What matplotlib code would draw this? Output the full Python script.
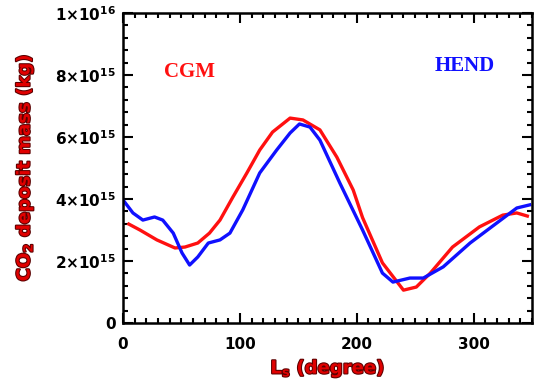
import numpy as np
import matplotlib
matplotlib.use("Agg")
from matplotlib import pyplot as plt
from matplotlib.ticker import MultipleLocator
import matplotlib.patheffects as pe

# CGM (red) - Ls in degrees, mass in 1e15 kg
cgm_ls = [5, 14.5, 29, 44.5, 53, 64, 74, 83, 94, 106, 117, 128, 143, 154,
          168.5, 183, 197, 205, 222, 240, 251, 263, 282, 305, 325, 337, 346]
cgm_mass = [3.19, 3.0, 2.68, 2.42, 2.45, 2.58, 2.9, 3.32, 4.06, 4.84, 5.58, 6.16, 6.61, 6.55,
            6.23, 5.35, 4.29, 3.4, 1.94, 1.06, 1.16, 1.61, 2.45, 3.1, 3.48, 3.55, 3.45]

# HEND (blue)
hend_ls = [0, 8.5, 17, 27, 34, 43, 50.5, 57, 64, 73, 83, 91.5, 102.5, 117, 131.5, 143,
           151, 160, 168.5, 185.5, 205, 222, 231, 245.5, 257, 274, 297, 320, 337, 348]
hend_mass = [3.97, 3.55, 3.32, 3.42, 3.32, 2.9, 2.26, 1.87, 2.13, 2.58, 2.68, 2.9, 3.65, 4.84, 5.58, 6.13,
             6.42, 6.32, 5.9, 4.52, 3.0, 1.61, 1.32, 1.45, 1.45, 1.81, 2.58, 3.23, 3.71, 3.81]

y_ticks = [0, 2e15, 4e15, 6e15, 8e15, 1e16]
y_tick_labels = ["0", r"$\mathbf{2{\times}10^{15}}$", r"$\mathbf{4{\times}10^{15}}$",
                 r"$\mathbf{6{\times}10^{15}}$", r"$\mathbf{8{\times}10^{15}}$",
                 r"$\mathbf{1{\times}10^{16}}$"]
x_ticks = [0, 100, 200, 300]

fig = plt.figure(figsize=(5.34, 3.84), dpi=100)
ax = fig.add_axes([123 / 534, 61 / 384, 409 / 534, 310 / 384])

ax.plot(cgm_ls, np.array(cgm_mass) * 1e15, color="#ff1010", lw=2.4)
ax.plot(hend_ls, np.array(hend_mass) * 1e15, color="#1010ff", lw=2.4)

ax.set_xlim(0, 350)
ax.set_ylim(0, 1e16)
ax.set_xticks(x_ticks)
ax.set_xticklabels([str(v) for v in x_ticks], fontsize=11, fontweight="bold")
ax.set_yticks(y_ticks)
ax.set_yticklabels(y_tick_labels, fontsize=11, fontweight="bold")
ax.xaxis.set_minor_locator(MultipleLocator(10))
ax.yaxis.set_minor_locator(MultipleLocator(4e14))
ax.tick_params(which="both", direction="in", top=True, right=True, width=1.5)
ax.tick_params(which="major", length=7)
ax.tick_params(axis="x", which="major", pad=10)
ax.tick_params(axis="y", which="major", pad=5)
ax.tick_params(which="minor", length=3.5)
for s in ax.spines.values():
    s.set_linewidth(1.8)

outline = [pe.withStroke(linewidth=1.5, foreground="#5a0000")]
ax.set_ylabel(r"CO$_\mathbf{2}$ deposit mass (kg)", fontsize=13, fontweight="bold",
              color="#e00000", path_effects=outline, labelpad=14)
ax.set_xlabel(r"L$_\mathbf{s}$ (degree)", fontsize=13, fontweight="bold",
              color="#e00000", path_effects=outline, labelpad=4)

ax.text(57, 8.1e15, "CGM", color="#ff1010", fontsize=15, fontweight="bold",
        family="Liberation Serif", ha="center", va="center")
ax.text(292.5, 8.29e15, "HEND", color="#1010ff", fontsize=15, fontweight="bold",
        family="Liberation Serif", ha="center", va="center")

fig.savefig("out.png", dpi=100)
